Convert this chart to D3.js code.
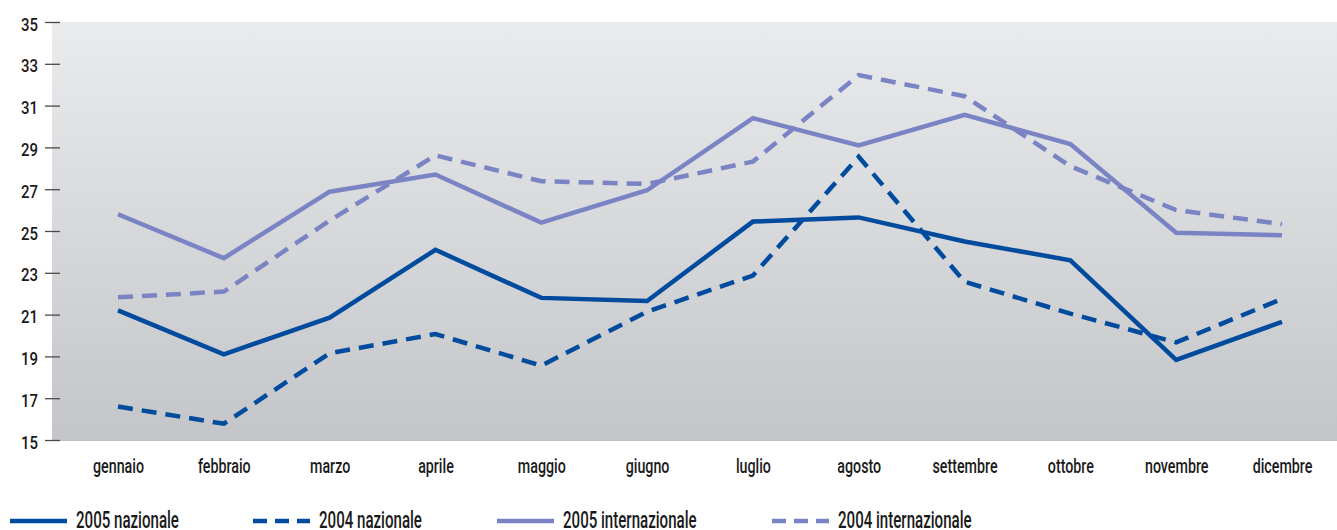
<!DOCTYPE html>
<html>
<head>
<meta charset="utf-8">
<script src="https://cdn.jsdelivr.net/npm/d3@7/dist/d3.min.js"></script>
<style>
  html, body { margin: 0; padding: 0; background: #ffffff; }
  svg text { font-family: Roboto, "DejaVu Sans Condensed", sans-serif; font-weight: 500; fill: #1a1a1a; }
</style>
</head>
<body>
<svg id="chart" width="1337" height="530"></svg>
<script>
// Monthly values, 2004 vs 2005, national and international
const months = ["gennaio", "febbraio", "marzo", "aprile", "maggio", "giugno",
                "luglio", "agosto", "settembre", "ottobre", "novembre", "dicembre"];
const naz2005 = [21.2, 19.1, 20.85, 24.1, 21.8, 21.65, 25.45, 25.65, 24.5, 23.6, 18.83, 20.65];
const naz2004 = [16.6, 15.78, 19.15, 20.07, 18.56, 21.14, 22.87, 28.55, 22.57, 21.05, 19.67, 21.75];
const int2005 = [25.8, 23.7, 26.88, 27.7, 25.4, 26.95, 30.4, 29.1, 30.56, 29.16, 24.92, 24.8];
const int2004 = [21.83, 22.1, 25.5, 28.62, 27.38, 27.25, 28.32, 32.46, 31.45, 28.1, 26.0, 25.33];
const yTicks = [15, 17, 19, 21, 23, 25, 27, 29, 31, 33, 35];
const seriesNames = ["2005 nazionale", "2004 nazionale", "2005 internazionale", "2004 internazionale"];

const dark = "#004b9e";
const light = "#7a84c4";

const series = [
  { name: seriesNames[0], values: naz2005, color: dark,  dash: null },
  { name: seriesNames[1], values: naz2004, color: dark,  dash: "15,9" },
  { name: seriesNames[2], values: int2005, color: light, dash: null },
  { name: seriesNames[3], values: int2004, color: light, dash: "15,9" }
];

const svg = d3.select("#chart");
const plot = { left: 52, right: 1337, top: 22, bottom: 440 };

// narrow lettering: squeeze the regular face horizontally so a sample word fits a width
function squeeze(sample, size, width) {
  const t = svg.append("text").attr("font-size", size).text(sample);
  const k = width / t.node().getComputedTextLength();
  t.remove();
  return k;
}
const yFont = 19, mFont = 21, lFont = 24;
const kY = squeeze("35", yFont, 17);
const kM = squeeze("gennaio", mFont, 51);
const kL = squeeze("2005 nazionale", lFont, 103);

const x = d3.scalePoint().domain(months).range([118, 1282]);
const y = d3.scaleLinear().domain([15, 35]).range([plot.bottom, plot.top]);

// plot background: soft vertical gradient
const defs = svg.append("defs");
const grad = defs.append("linearGradient").attr("id", "bg").attr("x1", 0).attr("y1", 0).attr("x2", 0).attr("y2", 1);
grad.append("stop").attr("offset", "0%").attr("stop-color", "#eaebed");
grad.append("stop").attr("offset", "100%").attr("stop-color", "#c3c5c8");

svg.append("rect")
  .attr("x", plot.left).attr("y", plot.top)
  .attr("width", plot.right - plot.left).attr("height", plot.bottom - plot.top)
  .attr("fill", "url(#bg)");

svg.append("line")
  .attr("x1", plot.left).attr("x2", plot.right)
  .attr("y1", plot.bottom + 0.5).attr("y2", plot.bottom + 0.5)
  .attr("stroke", "#bfc1c4").attr("stroke-width", 1);

// y axis: short ticks crossing the plot edge, labels to the left
const tickPad = 7;
const yAxis = d3.axisLeft(y).tickValues(yTicks).tickSize(15).tickPadding(tickPad).tickFormat(d3.format("d"));
const yg = svg.append("g").attr("transform", `translate(${plot.left + 8},0)`).call(yAxis);
yg.select(".domain").remove();
yg.selectAll(".tick line").attr("stroke", "#4a4a4a").attr("stroke-width", 1.3);
yg.selectAll(".tick text")
  .attr("font-size", yFont).attr("fill", "#1a1a1a")
  .style("font-family", null)
  .attr("x", -(15 + tickPad) / kY)
  .attr("dy", 8)
  .attr("transform", `scale(${kY},1)`);

// x axis: month labels only
const xAxis = d3.axisBottom(x).tickSize(0);
const xg = svg.append("g").attr("transform", `translate(0,${plot.bottom})`).call(xAxis);
xg.select(".domain").remove();
xg.selectAll(".tick text")
  .attr("font-size", mFont).attr("fill", "#1a1a1a")
  .style("font-family", null)
  .attr("y", 33).attr("dy", 0)
  .attr("transform", `scale(${kM},1)`);

// lines
const line = d3.line().x((d, i) => x(months[i])).y(d => y(d));
svg.append("g").selectAll("path")
  .data(series)
  .join("path")
  .attr("d", s => line(s.values))
  .attr("fill", "none")
  .attr("stroke", s => s.color)
  .attr("stroke-width", 4.5)
  .attr("stroke-linejoin", "miter")
  .attr("stroke-dasharray", s => s.dash);

// legend along the bottom
const legendX = [10, 253, 497, 772];
const legend = svg.append("g").attr("transform", "translate(0,521)");
const items = legend.selectAll("g").data(series).join("g")
  .attr("transform", (s, i) => `translate(${legendX[i]},0)`);
items.append("line")
  .attr("x1", 0).attr("x2", 57).attr("y1", 0).attr("y2", 0)
  .attr("stroke", s => s.color).attr("stroke-width", 4.5)
  .attr("stroke-dasharray", s => s.dash ? "14,8" : null);
items.append("text")
  .attr("x", 66 / kL).attr("y", 7)
  .attr("font-size", lFont)
  .attr("transform", `scale(${kL},1)`)
  .text(s => s.name);
</script>
</body>
</html>
